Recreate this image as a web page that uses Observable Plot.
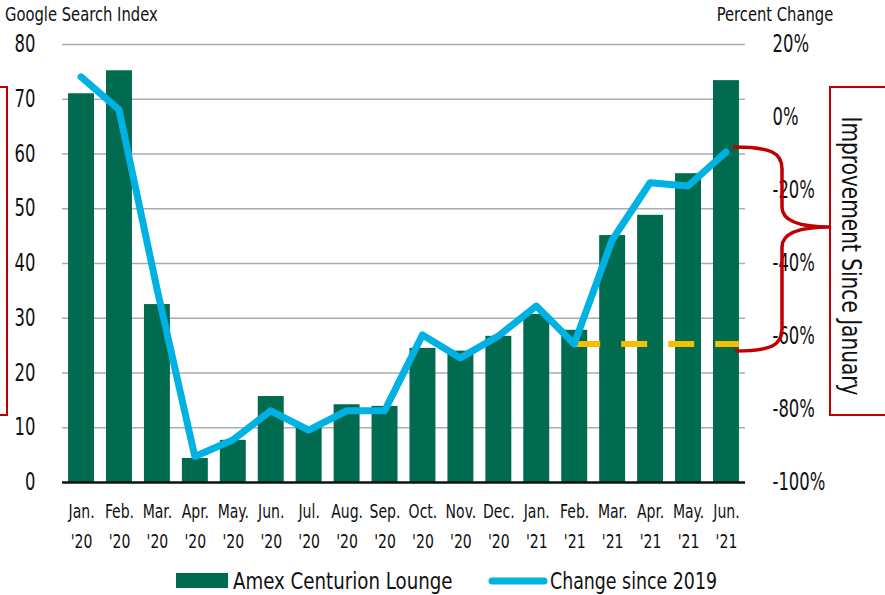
<!DOCTYPE html>
<html>
<head>
<meta charset="utf-8">
<script src="https://cdn.jsdelivr.net/npm/d3@7"></script>
<script src="https://cdn.jsdelivr.net/npm/@observablehq/plot@0.6"></script>
<style>
  html, body { margin: 0; padding: 0; background: #fff; }
  #chart svg { display: block; }
</style>
</head>
<body>
<div id="chart"></div>
<script>
// ---- data ----
const months = ["Jan. '20","Feb. '20","Mar. '20","Apr. '20","May. '20","Jun. '20","Jul. '20","Aug. '20","Sep. '20","Oct. '20","Nov. '20","Dec. '20","Jan. '21","Feb. '21","Mar. '21","Apr. '21","May. '21","Jun. '21"];
const searchIndex = [71, 75.2, 32.5, 4.4, 7.7, 15.7, 10, 14.2, 13.9, 24.5, 24, 26.7, 30.7, 27.8, 45.1, 48.8, 56.4, 73.4];
const pctChange = [11, 2, -47, -93, -88.5, -80.5, -85.8, -80.5, -80.5, -59.7, -66, -60, -51.8, -62.2, -33.7, -18, -18.9, -9.6];
const leftTicks = [0, 10, 20, 30, 40, 50, 60, 70, 80];
const rightTicks = [20, 0, -20, -40, -60, -80, -100];
const baselineMonth = "Feb. '21";
const latestMonth = "Jun. '21";
const barLabel = "Amex Centurion Lounge";
const lineLabel = "Change since 2019";
const leftTitle = "Google Search Index";
const rightTitle = "Percent Change";
const bracketLabel = "Improvement Since January";

// ---- styles ----
const FONT = "'Liberation Sans Narrow', 'DejaVu Sans Condensed', 'DejaVu Sans', sans-serif";
const GREEN = "#006b4f";
const BLUE = "#00b2e3";
const YELLOW = "#f5bf00";
const RED = "#c00000";

// map percent (-100..20) onto the left scale (0..80)
const toLeft = p => (p + 100) * 80 / 120;
const fromLeft = v => v * 120 / 80 - 100;

const data = months.map((m, i) => ({month: m, value: searchIndex[i], pct: pctChange[i]}));

const plot = Plot.plot({
  width: 885,
  height: 595,
  marginTop: 44,
  marginBottom: 113,
  marginLeft: 62,
  marginRight: 140,
  style: {fontFamily: FONT, background: "#fff", color: "#111"},
  x: {domain: months, paddingInner: 0.316, paddingOuter: 0.16, round: false, label: null},
  y: {domain: [0, 80], label: null},
  marks: [
    Plot.gridY(leftTicks.filter(d => d > 0), {stroke: "#a9adb1", strokeOpacity: 1, strokeWidth: 1.3}),
    Plot.barY(data, {x: "month", y: "value", fill: GREEN}),
    Plot.ruleY([0], {stroke: "#111", strokeWidth: 2.5}),
    Plot.axisY({ticks: leftTicks, tickSize: 0, tickPadding: 27, fontSize: 24, label: null}),
    Plot.axisY({anchor: "right", ticks: rightTicks.map(toLeft), tickFormat: v => Math.round(fromLeft(v)) + "%", tickSize: 0, tickPadding: 27, fontSize: 24, label: null}),
    Plot.axisX({tickSize: 0, tickPadding: 15, fontSize: 19, lineHeight: 1.55, tickFormat: d => d.replace(" ", "\n"), label: null})
  ]
});

document.getElementById("chart").appendChild(plot);

// condense text horizontally (keeps real text) to mimic a condensed typeface
function condense(el, k) {
  const spans = el.querySelectorAll("tspan");
  const targets = spans.length ? Array.from(spans) : [el];
  for (const t of targets) {
    const w = t.getComputedTextLength();
    if (w > 0) {
      t.setAttribute("textLength", (w * k).toFixed(1));
      t.setAttribute("lengthAdjust", "spacingAndGlyphs");
    }
  }
}
plot.querySelectorAll('g[aria-label="y-axis tick label"] text').forEach(t => condense(t, 0.76));
plot.querySelectorAll('g[aria-label="x-axis tick label"] text').forEach(t => condense(t, 0.82));

// ---- annotations derived from scales ----
const sx = plot.scale("x");
const sy = plot.scale("y");
const xBand = d3.scaleBand(sx.domain, sx.range).paddingInner(sx.paddingInner).paddingOuter(sx.paddingOuter).align(sx.align ?? 0.5);
const yLin = d3.scaleLinear(sy.domain, sy.range);
const bw = xBand.bandwidth();
const cx = m => xBand(m) + bw / 2;

const svg = d3.select(plot);
const byMonth = new Map(data.map(d => [d.month, d]));
const baseY = yLin(toLeft(byMonth.get(baselineMonth).pct));
const lastY = yLin(toLeft(byMonth.get(latestMonth).pct));

// dashed yellow reference at baseline level
svg.append("line")
  .attr("x1", cx(baselineMonth)).attr("x2", xBand(latestMonth) + bw)
  .attr("y1", baseY).attr("y2", baseY)
  .attr("stroke", YELLOW).attr("stroke-width", 6).attr("stroke-dasharray", "26,21");

// blue line (drawn on top)
const line = d3.line().x(d => cx(d.month)).y(d => yLin(toLeft(d.pct)));
svg.append("path").attr("d", line(data)).attr("fill", "none")
  .attr("stroke", BLUE).attr("stroke-width", 7)
  .attr("stroke-linecap", "round").attr("stroke-linejoin", "round");

// red brace
const x0 = cx(latestMonth) + 7;
const yTop = lastY - 5;
const yBot = baseY + 7;
const xv = 782, xt = 830, yTip = 227;
const brace = `M${x0},${yTop} C${xv - 10},${yTop} ${xv},${yTop + 6} ${xv},${yTop + 22}
  L${xv},${yTip - 20} C${xv},${yTip - 8} ${xv + 14},${yTip} ${xt},${yTip}
  C${xv + 14},${yTip} ${xv},${yTip + 8} ${xv},${yTip + 20}
  L${xv},${yBot - 22} C${xv},${yBot - 6} ${xv - 10},${yBot} ${x0 + 2},${yBot}`;
svg.append("path").attr("d", brace).attr("fill", "none").attr("stroke", RED).attr("stroke-width", 3.5);

// red boxes
svg.append("rect").attr("x", 830).attr("y", 87).attr("width", 70).attr("height", 328)
  .attr("fill", "none").attr("stroke", RED).attr("stroke-width", 2);
svg.append("path").attr("d", "M-2,87 H7 V415 H-2").attr("fill", "none").attr("stroke", RED).attr("stroke-width", 2);

const txt = (x, y, s, size, anchor) => svg.append("text")
  .attr("x", x).attr("y", y).attr("text-anchor", anchor)
  .attr("font-family", FONT).attr("font-size", size).attr("fill", "#111").text(s);

const br = svg.append("text").attr("transform", "translate(851,256) rotate(90)")
  .attr("text-anchor", "middle").attr("dominant-baseline", "central")
  .attr("font-family", FONT).attr("font-size", 26).attr("fill", "#111").text(bracketLabel);
condense(br.node(), 0.86);

// titles
condense(txt(5, 21, leftTitle, 20, "start").node(), 0.82);
condense(txt(775, 21, rightTitle, 20, "middle").node(), 0.82);

// legend
svg.append("rect").attr("x", 176).attr("y", 573).attr("width", 52).attr("height", 15).attr("fill", GREEN);
condense(txt(233, 589, barLabel, 23, "start").node(), 0.88);
svg.append("line").attr("x1", 492).attr("x2", 544).attr("y1", 581).attr("y2", 581)
  .attr("stroke", BLUE).attr("stroke-width", 7).attr("stroke-linecap", "round");
condense(txt(550, 589, lineLabel, 23, "start").node(), 0.84);
</script>
</body>
</html>
